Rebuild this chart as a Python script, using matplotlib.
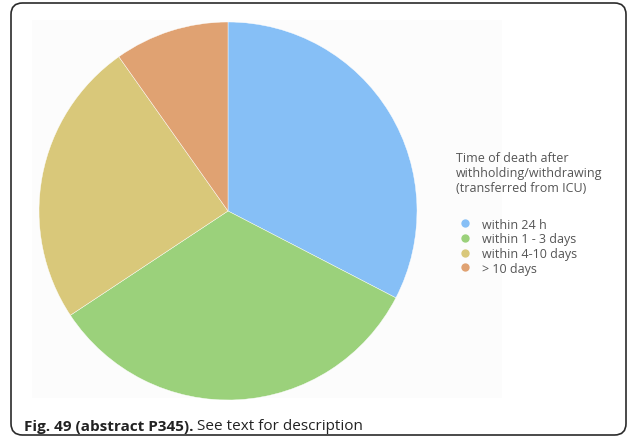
import matplotlib.pyplot as plt
from matplotlib.patches import FancyBboxPatch, Rectangle
from matplotlib.lines import Line2D

# share of deaths by time after withholding/withdrawing
labels = ['within 24 h', 'within 1 - 3 days', 'within 4-10 days', '> 10 days']
shares = [32.6, 33.1, 24.5, 9.8]
colors = ['#86BFF6', '#9BD17B', '#D9C87A', '#E0A272']

legend_title = 'Time of death after\nwithholding/withdrawing\n(transferred from ICU)'

W, H = 637, 439
fig = plt.figure(figsize=(W / 100, H / 100), dpi=100)

# rounded frame around the whole figure
frame = FancyBboxPatch((11 / W, 3 / H), 615 / W, 432 / H,
                       boxstyle='round,pad=0,rounding_size=0.018',
                       transform=fig.transFigure, facecolor='white',
                       edgecolor='#2b2b2b', linewidth=1.2,
                       mutation_aspect=W / H, zorder=-3)
fig.patches.append(frame)

# faint panel behind the chart
panel = Rectangle((32 / W, 40 / H), 470 / W, 378 / H, transform=fig.transFigure,
                  facecolor='#fcfcfc', edgecolor='none', zorder=-2)
fig.patches.append(panel)

# pie
cx, cy, r = 228, 212, 189
ax = fig.add_axes([(cx - r) / W, (H - cy - r) / H, 2 * r / W, 2 * r / H])
wedges, _ = ax.pie(shares, colors=colors, startangle=90, counterclock=False,
                   wedgeprops=dict(edgecolor='white', linewidth=0.3))
ax.set_xlim(-1, 1)
ax.set_ylim(-1, 1)
ax.set_aspect('equal')
ax.axis('off')

handles = [Line2D([], [], marker='o', linestyle='none', markersize=6,
                  markerfacecolor=c, markeredgecolor='none') for c in colors]
leg = fig.legend(handles, labels, title=legend_title, loc='upper left',
                 bbox_to_anchor=(456 / W, 1 - 152 / H), frameon=False,
                 alignment='left', handletextpad=0.6, handlelength=1.5,
                 labelspacing=0.14, borderaxespad=0, borderpad=0,
                 prop={'family': 'Open Sans', 'size': 9})
leg.get_title().set_fontfamily('Open Sans')
leg.get_title().set_fontsize(9)
leg.get_title().set_color('#555555')
leg.get_title().set_linespacing(1.2)
leg._legend_box.sep = 17
for t in leg.get_texts():
    t.set_color('#555555')

# caption
cap = fig.text(24 / W, 1 - 427 / H, 'Fig. 49 (abstract P345).', fontsize=11,
               fontweight='bold', family='Open Sans', color='#222222', va='center')
fig.canvas.draw()
bb = cap.get_window_extent()
fig.text(bb.x1 / W + 4 / W, 1 - 427 / H, 'See text for description', fontsize=11,
         family='Open Sans', color='#222222', va='center')

fig.savefig('out.png', dpi=100)
